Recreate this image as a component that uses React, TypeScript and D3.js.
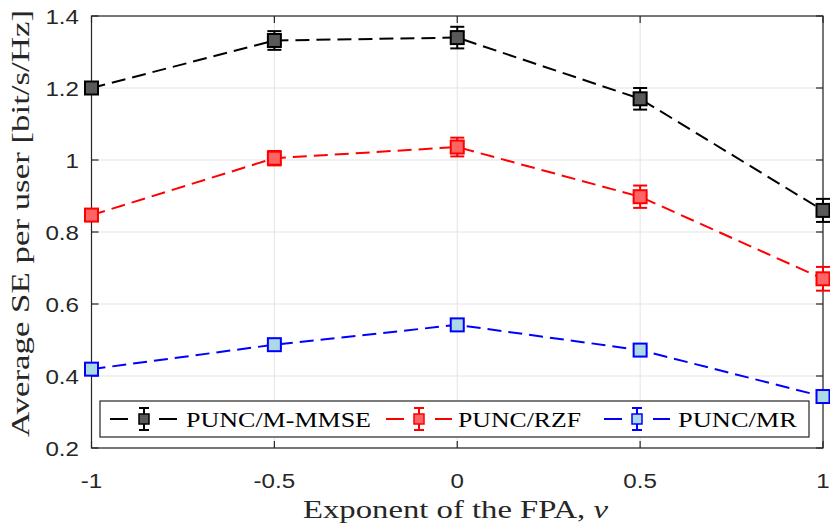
import { useRef, useEffect } from 'react';
import * as d3 from 'd3';

const nu = [-1, -0.5, 0, 0.5, 1];
const mmse = [1.2, 1.332, 1.34, 1.17, 0.86];
const mmseErr = [0.008, 0.026, 0.03, 0.03, 0.032];
const rzf = [0.847, 1.005, 1.036, 0.898, 0.67];
const rzfErr = [0.008, 0.02, 0.026, 0.031, 0.033];
const mr = [0.419, 0.487, 0.542, 0.472, 0.343];
const mrErr = [0.006, 0.007, 0.008, 0.007, 0.008];
const xTicks = [-1, -0.5, 0, 0.5, 1];
const yTicks = [0.2, 0.4, 0.6, 0.8, 1, 1.2, 1.4];
const seriesNames = ['PUNC/M-MMSE', 'PUNC/RZF', 'PUNC/MR'];

const W = 830;
const H = 531;
const left = 91.5;
const right = 823;
const top = 16;
const bottom = 448;

const styles = [
  { stroke: '#000000', fill: '#595959' },
  { stroke: '#ff0000', fill: '#ff6464' },
  { stroke: '#0000ff', fill: '#add8e6' },
];

const Chart = () => {
  const svgRef = useRef<SVGSVGElement>(null);

  useEffect(() => {
    const svg = d3.select(svgRef.current).attr('width', W).attr('height', H);
    svg.selectAll('*').remove();

    const x = d3.scaleLinear().domain([-1, 1]).range([left, right]);
    const y = d3.scaleLinear().domain([0.2, 1.4]).range([bottom, top]);

    svg.append('rect').attr('width', W).attr('height', H).attr('fill', '#fff');

    // grid
    const grid = svg.append('g').attr('stroke', '#e3e3e3').attr('stroke-width', 1);
    xTicks.forEach(t => {
      grid.append('line').attr('x1', x(t)).attr('x2', x(t)).attr('y1', top).attr('y2', bottom);
    });
    yTicks.forEach(t => {
      grid.append('line').attr('x1', left).attr('x2', right).attr('y1', y(t)).attr('y2', y(t));
    });

    // axes box and ticks
    const ax = svg.append('g').attr('stroke', '#262626').attr('stroke-width', 1.2);
    ax.append('rect')
      .attr('x', left).attr('y', top)
      .attr('width', right - left).attr('height', bottom - top)
      .attr('fill', 'none');
    xTicks.forEach(t => {
      ax.append('line').attr('x1', x(t)).attr('x2', x(t)).attr('y1', bottom).attr('y2', bottom - 7);
      ax.append('line').attr('x1', x(t)).attr('x2', x(t)).attr('y1', top).attr('y2', top + 7);
    });
    yTicks.forEach(t => {
      ax.append('line').attr('x1', left).attr('x2', left + 7).attr('y1', y(t)).attr('y2', y(t));
      ax.append('line').attr('x1', right).attr('x2', right - 7).attr('y1', y(t)).attr('y2', y(t));
    });

    // tick labels
    const tickFont = 'Liberation Sans, Arial, sans-serif';
    xTicks.forEach(t => {
      svg.append('text')
        .attr('transform', `translate(${x(t)},${488}) scale(1.15,1)`)
        .attr('text-anchor', 'middle')
        .attr('font-family', tickFont)
        .attr('font-size', 21)
        .attr('fill', '#262626')
        .text(String(t));
    });
    yTicks.forEach(t => {
      svg.append('text')
        .attr('transform', `translate(${79},${y(t) + 7.5}) scale(1.15,1)`)
        .attr('text-anchor', 'end')
        .attr('font-family', tickFont)
        .attr('font-size', 21)
        .attr('fill', '#262626')
        .text(d3.format('.1f')(t).replace(/\.0$/, ''));
    });

    // axis labels
    const serif = 'Liberation Serif, Times New Roman, serif';
    const xl = svg.append('text')
      .attr('x', 303).attr('y', 518)
      .attr('font-family', serif).attr('font-size', 26)
      .attr('fill', '#262626')
      .attr('textLength', 305).attr('lengthAdjust', 'spacingAndGlyphs');
    xl.append('tspan').text('Exponent of the FPA, ');
    xl.append('tspan').attr('font-style', 'italic').text('ν');

    svg.append('text')
      .attr('transform', `translate(29,437) rotate(-90)`)
      .attr('font-family', serif).attr('font-size', 26)
      .attr('fill', '#262626')
      .attr('textLength', 427).attr('lengthAdjust', 'spacingAndGlyphs')
      .text('Average SE per user [bit/s/Hz]');

    const allSeries = [
      { v: mmse, e: mmseErr },
      { v: rzf, e: rzfErr },
      { v: mr, e: mrErr },
    ];

    const line = d3.line<number>()
      .x((_, i) => x(nu[i]))
      .y(d => y(d));

    allSeries.forEach((s, k) => {
      const st = styles[k];
      const g = svg.append('g');
      g.append('path')
        .attr('d', line(s.v))
        .attr('fill', 'none')
        .attr('stroke', st.stroke)
        .attr('stroke-width', 2)
        .attr('stroke-dasharray', '14,7');
      s.v.forEach((v, i) => {
        const cx = x(nu[i]);
        const y0 = y(v - s.e[i]);
        const y1 = y(v + s.e[i]);
        g.append('line').attr('x1', cx).attr('x2', cx).attr('y1', y0).attr('y2', y1)
          .attr('stroke', st.stroke).attr('stroke-width', 2);
        [y0, y1].forEach(yy => {
          g.append('line').attr('x1', cx - 7).attr('x2', cx + 7).attr('y1', yy).attr('y2', yy)
            .attr('stroke', st.stroke).attr('stroke-width', 2);
        });
        g.append('rect')
          .attr('x', cx - 6.5).attr('y', y(v) - 6.5)
          .attr('width', 13).attr('height', 13)
          .attr('fill', st.fill).attr('stroke', st.stroke).attr('stroke-width', 2);
      });
    });

    // legend
    const lg = svg.append('g');
    lg.append('rect')
      .attr('x', 100).attr('y', 401).attr('width', 709).attr('height', 36)
      .attr('fill', '#fff').attr('stroke', '#262626').attr('stroke-width', 1.2);
    const entries = [
      { x0: 110, x1: 178, tx: 186, tw: 185 },
      { x0: 386, x1: 452, tx: 458, tw: 123 },
      { x0: 604, x1: 670, tx: 678, tw: 119 },
    ];
    entries.forEach((en, k) => {
      const st = styles[k];
      const cy = 419;
      const mx = (en.x0 + en.x1) / 2;
      lg.append('line').attr('x1', en.x0).attr('x2', en.x1).attr('y1', cy).attr('y2', cy)
        .attr('stroke', st.stroke).attr('stroke-width', 2).attr('stroke-dasharray', '18,31');
      lg.append('line').attr('x1', mx).attr('x2', mx).attr('y1', cy - 11).attr('y2', cy + 11)
        .attr('stroke', st.stroke).attr('stroke-width', 2);
      [cy - 11, cy + 11].forEach(yy => {
        lg.append('line').attr('x1', mx - 5).attr('x2', mx + 5).attr('y1', yy).attr('y2', yy)
          .attr('stroke', st.stroke).attr('stroke-width', 2);
      });
      lg.append('rect').attr('x', mx - 5).attr('y', cy - 5).attr('width', 10).attr('height', 10)
        .attr('fill', st.fill).attr('stroke', st.stroke).attr('stroke-width', 1.5);
      lg.append('text')
        .attr('x', en.tx).attr('y', 427)
        .attr('font-family', serif).attr('font-size', 22)
        .attr('fill', '#000')
        .attr('textLength', en.tw).attr('lengthAdjust', 'spacingAndGlyphs')
        .text(seriesNames[k]);
    });
  }, []);

  return <svg ref={svgRef} style={{ position: 'absolute', left: 0, top: 0 }}></svg>;
};

export default function App() {
  return <Chart />;
}
